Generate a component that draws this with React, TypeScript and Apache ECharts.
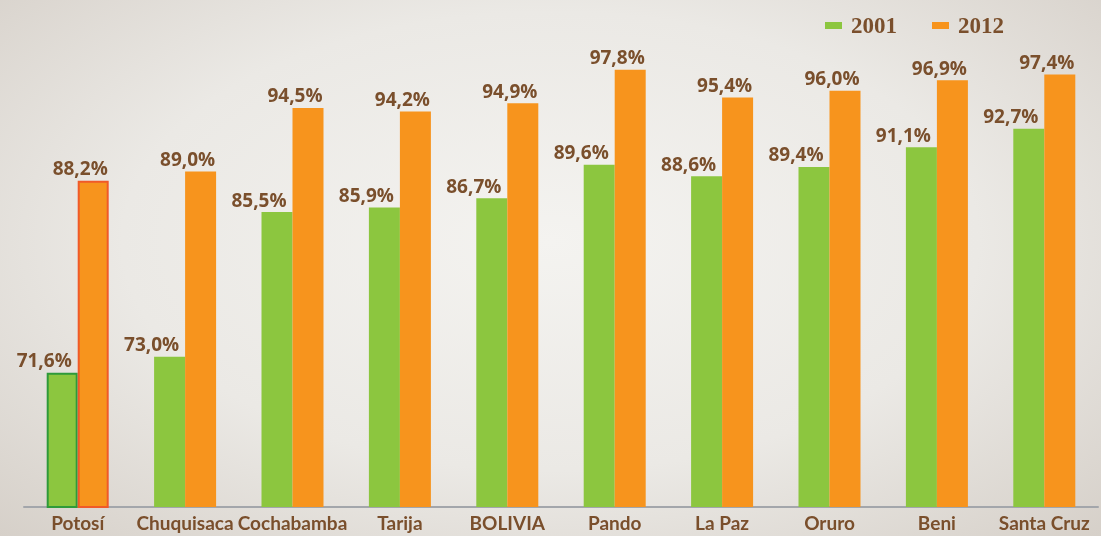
import React, { useEffect, useRef } from "react";
import * as echarts from "echarts";

const categories = ["Potosí", "Chuquisaca", "Cochabamba", "Tarija", "BOLIVIA", "Pando", "La Paz", "Oruro", "Beni", "Santa Cruz"];
const values2001 = [71.6, 73.0, 85.5, 85.9, 86.7, 89.6, 88.6, 89.4, 91.1, 92.7];
const values2012 = [88.2, 89.0, 94.5, 94.2, 94.9, 97.8, 95.4, 96.0, 96.9, 97.4];
const seriesNames = ["2001", "2012"];

const GREEN = "#8cc63f";
const ORANGE = "#f7941d";
const BROWN = "#7a4f2c";

const fmt = (v: number) => v.toFixed(1).replace(".", ",") + "%";

export default function App() {
  const ref = useRef<HTMLDivElement>(null);
  useEffect(() => {
    if (!ref.current) return;
    const chart = echarts.init(ref.current, undefined, { renderer: "svg" });
    const mk = (vals: number[], color: string, border: string, offX: number) =>
      vals.map((v, i) => ({
        value: v,
        itemStyle: i === 0 ? { color, borderColor: border, borderWidth: 2 } : { color },
        label: { offset: [offX, 0] },
      }));
    const labelStyle = {
      show: true,
      position: "top",
      distance: 3,
      formatter: (p: any) => fmt(p.value),
      color: BROWN,
      fontFamily: "Open Sans",
      fontWeight: "bold",
      fontSize: 19,
    };
    chart.setOption({
      animation: false,
      backgroundColor: "transparent",
      legend: {
        data: seriesNames,
        right: 92,
        top: 9,
        itemWidth: 17,
        itemHeight: 7,
        itemGap: 35,
        icon: "rect",
        textStyle: {
          color: BROWN,
          fontFamily: "Liberation Serif",
          fontWeight: "bold",
          fontSize: 23,
          padding: [0, 0, 0, 4],
        },
      },
      grid: { left: 24, right: 3, top: 49, bottom: 29, containLabel: false },
      xAxis: {
        type: "category",
        data: categories,
        axisLine: { lineStyle: { color: "#a3a6ab", width: 2 } },
        axisTick: { show: false },
        axisLabel: {
          color: BROWN,
          fontFamily: "Lato",
          fontWeight: "bold",
          fontSize: 19,
          margin: 6,
          interval: 0,
        },
      },
      yAxis: {
        type: "value",
        min: 60,
        max: 99.6,
        show: false,
        splitLine: { show: false },
      },
      series: [
        {
          name: "2001",
          type: "bar",
          barWidth: 31,
          barGap: "0%",
          color: GREEN,
          data: mk(values2001, GREEN, "#2e9a3a", -18),
          label: labelStyle,
        },
        {
          name: "2012",
          type: "bar",
          barWidth: 31,
          barGap: "0%",
          color: ORANGE,
          data: mk(values2012, ORANGE, "#f05a28", -13),
          label: labelStyle,
        },
      ],
    });
    return () => chart.dispose();
  }, []);
  return (
    <div
      style={{
        position: "fixed",
        left: 0,
        top: 0,
        width: 1101,
        height: 536,
        background: "radial-gradient(ellipse at 50% 45%, #f4f3f0 0%, #ebe9e5 55%, #d6d0c9 100%)",
      }}
    >
      <div ref={ref} style={{ width: 1101, height: 536 }} />
    </div>
  );
}
